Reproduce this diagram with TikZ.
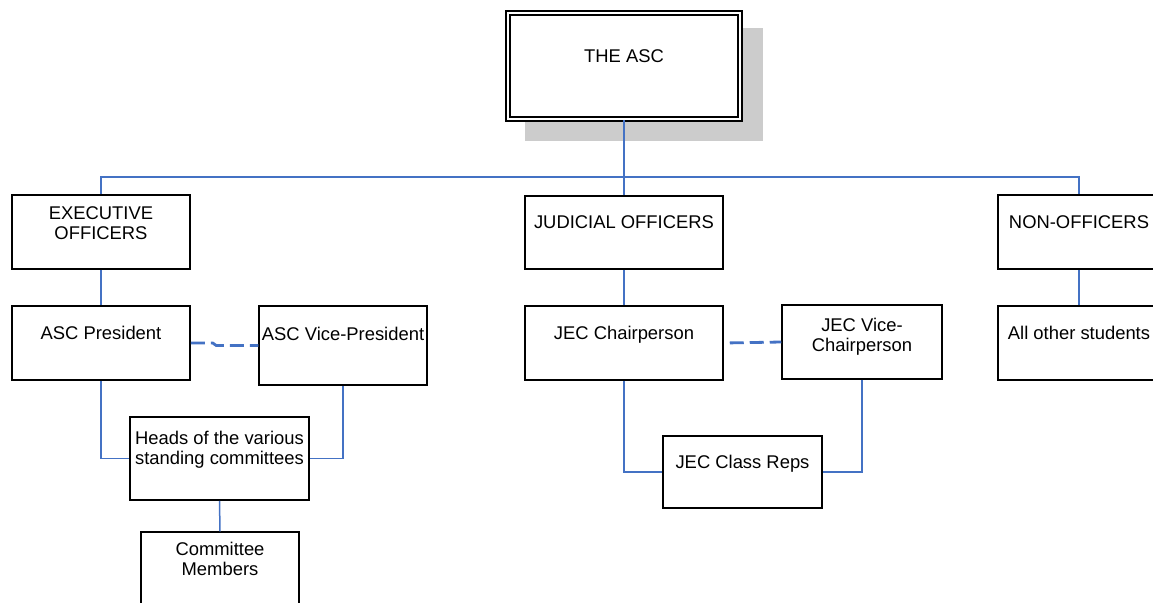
\documentclass[tikz,border=0pt]{standalone}
\usepackage{fontspec}
\setmainfont{Liberation Sans}
\usetikzlibrary{fit,calc}
\definecolor{linkblue}{RGB}{68,114,196}
\tikzset{
	orgbox/.style={draw=black, line width=0.75pt, inner sep=0pt},
	orgtext/.style={anchor=north, inner sep=0pt, align=center, font=\fontsize{9.2}{10}\selectfont},
	link/.style={draw=linkblue, line width=0.75pt},
	duallink/.style={draw=linkblue, line width=1.4pt, dash pattern=on 7pt off 3pt},
}

\begin{document}
\begin{tikzpicture}[x=0.5pt, y=-0.5pt]
			%%%%% START %%%%%
			\useasboundingbox (0,0) rectangle (1153,602);
			\clip (0,0) rectangle (1153,602);
			
			% top box with its shadow
			\fill[black!20] (525,28) rectangle (763,141);
			\node[orgbox, fill=white, line width=0.8pt, double, double distance=1pt, fit={(508,13) (740,119)}] (asc) {};
			\node[orgtext] (asc-t) at ([yshift=-18.5pt]asc.north) {THE ASC};
			
			% executive side
			\node[orgbox, fit={(12,195) (190,269)}] (exec) {};
			\node[orgtext] (exec-t) at ([yshift=-5.8pt]exec.north) {EXECUTIVE\\OFFICERS};
			\node[orgbox, fit={(12,306) (190,380)}] (pres) {};
			\node[orgtext] (pres-t) at ([yshift=-10.3pt]pres.north) {ASC President};
			\node[orgbox, fit={(259,306) (427,385)}] (vice) {};
			\node[orgtext] (vice-t) at ([yshift=-10.8pt]vice.north) {ASC Vice-President};
			\node[orgbox, fit={(130,417) (309,500)}] (heads) {};
			\node[orgtext] (heads-t) at ([yshift=-7.5pt]heads.north) {Heads of the various\\standing committees};
			\node[orgbox, fit={(141,532) (299,640)}] (members) {};
			\node[orgtext] (members-t) at ([yshift=-5.2pt]members.north) {Committee\\Members};
			
			% judicial side
			\node[orgbox, fit={(525,196) (723,269)}] (judicial) {};
			\node[orgtext] (judicial-t) at ([yshift=-10pt]judicial.north) {JUDICIAL OFFICERS};
			\node[orgbox, fit={(525,306) (723,380)}] (jchair) {};
			\node[orgtext] (jchair-t) at ([yshift=-10.3pt]jchair.north) {JEC Chairperson};
			\node[orgbox, fit={(782,305) (942,379)}] (jvice) {};
			\node[orgtext] (jvice-t) at ([yshift=-7pt]jvice.north) {JEC Vice-\\Chairperson};
			\node[orgbox, fit={(663,436) (822,508)}] (reps) {};
			\node[orgtext] (reps-t) at ([yshift=-10pt]reps.north) {JEC Class Reps};
			
			% non-officers
			\node[orgbox, fit={(998,195) (1160,269)}] (nonoff) {};
			\node[orgtext] (nonoff-t) at ([yshift=-10.5pt]nonoff.north) {NON-OFFICERS};
			\node[orgbox, fit={(998,306) (1160,380)}] (others) {};
			\node[orgtext] (others-t) at ([yshift=-10.3pt]others.north) {All other students};
			
			% connectors
			\coordinate (bus) at (624,177);
			\draw[link] (asc.south) -- (judicial.north);
			\draw[link] (exec.north) |- (bus) -| (nonoff.north);
			\draw[link] (exec.south) -- (pres.north);
			\draw[link] (pres.south) |- (heads.west);
			\draw[link] (vice.south) |- (heads.east);
			\draw[link] (heads.south) -- (members.north);
			\draw[link] (judicial.south) -- (jchair.north);
			\draw[link] (jchair.south) |- (reps.west);
			\draw[link] (jvice.south) |- (reps.east);
			\draw[link] (nonoff.south) -- (others.north);
			
			\draw[duallink] (pres.east) -- ++(11pt,0) -- ([xshift=-21pt]vice.west) -- (vice.west);
			\draw[duallink, dash phase=7pt] (jchair.east) -- (jvice.west);
			
			%%%%% END %%%%%
\end{tikzpicture}
\end{document}
